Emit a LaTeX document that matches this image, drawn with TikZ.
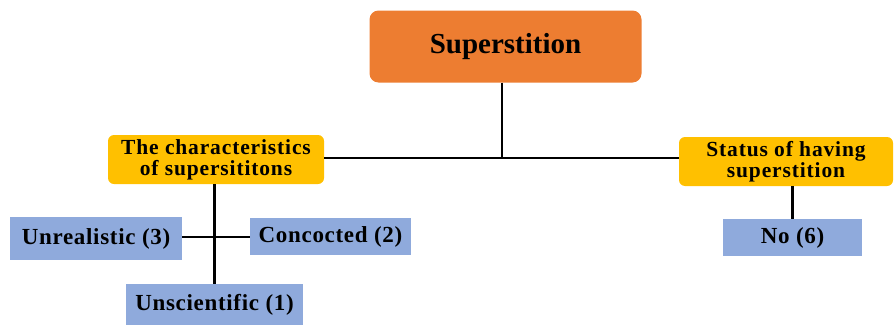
\documentclass[tikz,border=0pt]{standalone}
\usepackage{fontspec}
\setmainfont{Liberation Serif}
\definecolor{topor}{HTML}{ED7D31}
\definecolor{midyel}{HTML}{FFC000}
\definecolor{leafblue}{HTML}{8FAADC}
\begin{document}
\begin{tikzpicture}[x=1pt,y=-1pt,
  base/.style={inner sep=0pt, align=center},
  topbox/.style={base, fill=topor, rounded corners=9pt, font=\fontsize{29}{31}\selectfont\bfseries},
  midbox/.style={base, fill=midyel, rounded corners=6pt, font=\fontsize{21.5}{21}\selectfont\bfseries\addfontfeature{LetterSpace=4}},
  leafbox/.style={base, fill=leafblue, font=\fontsize{23}{25}\selectfont\bfseries\addfontfeature{LetterSpace=3}},
  link/.style={line width=2.8pt, black}]
\useasboundingbox (0,0) rectangle (896,324);
\node[topbox, minimum width=272pt, minimum height=72pt] (sup) at (505.5,46.5) {Superstition};
\node[midbox, minimum width=216pt, minimum height=49pt] (char) at (216,159.5) {The characteristics\\of supersititons};
\node[midbox, minimum width=214pt, minimum height=49pt] (status) at (786,161.5) {Status of having\\superstition};
\node[leafbox, minimum width=172pt, minimum height=43pt] (unreal) at (96,238.5) {Unrealistic (3)};
\node[leafbox, minimum width=161pt, minimum height=37pt] (conc) at (330.5,236.5) {Concocted (2)};
\node[leafbox, minimum width=177pt, minimum height=42pt] (unsci) at (214.5,305) {Unscientific (1)};
\node[leafbox, minimum width=139pt, minimum height=37pt] (no) at (792.5,237.5) {No (6)};
\coordinate (junc) at (502,158);
\coordinate (cross) at (214.5,237);
\draw[link] (sup.south -| junc) -- (junc);
\draw[link] (char.east |- junc) -- (status.west |- junc);
\draw[link] (char.south -| unsci.north) -- (unsci.north);
\draw[link] (unreal.east |- cross) -- (conc.west |- cross);
\draw[link] (status.south -| no.north) -- (no.north);
\end{tikzpicture}
\end{document}
